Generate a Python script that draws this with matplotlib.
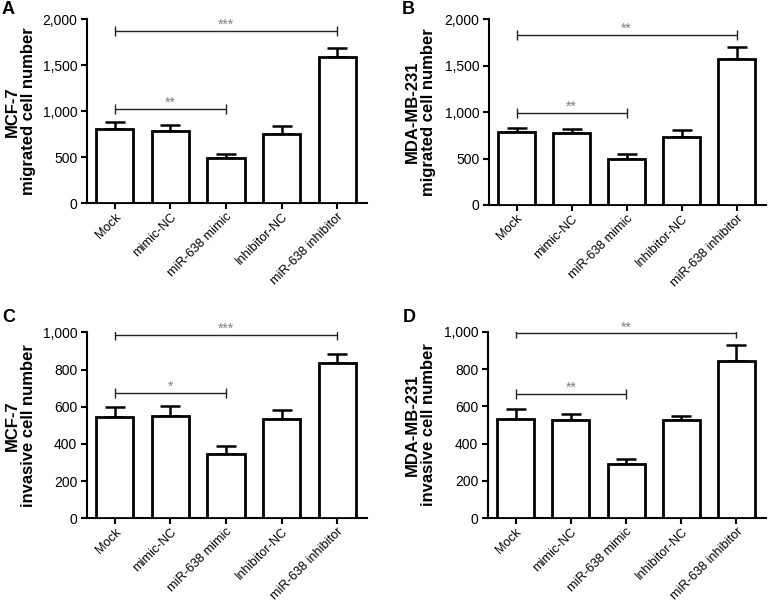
import matplotlib
matplotlib.use("Agg")
import matplotlib.pyplot as plt
from matplotlib.ticker import FuncFormatter

plt.rcParams['font.family'] = ['Liberation Sans', 'DejaVu Sans']

categories = ["Mock", "mimic-NC", "miR-638 mimic", "Inhibitor-NC", "miR-638 inhibitor"]

a_means = [808, 783, 496, 757, 1587]
a_err = [72, 65, 37, 80, 105]
b_means = [783, 776, 496, 736, 1576]
b_err = [43, 39, 50, 68, 122]
c_means = [547, 552, 348, 534, 833]
c_err = [50, 54, 41, 48, 52]
d_means = [534, 527, 291, 527, 845]
d_err = [54, 32, 25, 23, 82]

# brackets: (x1, x2, y, label)
a_brackets = [(0, 4, 1870, "***"), (0, 2, 1025, "**")]
b_brackets = [(0, 4, 1831, "**"), (0, 2, 991, "**")]
c_brackets = [(0, 4, 986, "***"), (0, 2, 676, "*")]
d_brackets = [(0, 4, 991, "**"), (0, 2, 666, "**")]

W, H = 768, 604
fig = plt.figure(figsize=(W / 100, H / 100), dpi=100)


def px_axes(left, right, top, bottom):
    return fig.add_axes([left / W, 1 - bottom / H, (right - left) / W, (bottom - top) / H])


panels = [
    dict(rect=(87, 366.7, 19.3, 203.3), means=a_means, err=a_err, br=a_brackets,
         ymax=2000, step=500, letter="A", lpos=(2, 1),
         ylab="MCF-7\nmigrated cell number", labx=20),
    dict(rect=(489, 765.7, 19.3, 205), means=b_means, err=b_err, br=b_brackets,
         ymax=2000, step=500, letter="B", lpos=(402, 1),
         ylab="MDA-MB-231\nmigrated cell number", labx=420),
    dict(rect=(87, 366.7, 332.3, 518.3), means=c_means, err=c_err, br=c_brackets,
         ymax=1000, step=200, letter="C", lpos=(2, 309),
         ylab="MCF-7\ninvasive cell number", labx=20),
    dict(rect=(488, 765.7, 331.7, 518.3), means=d_means, err=d_err, br=d_brackets,
         ymax=1000, step=200, letter="D", lpos=(403, 309),
         ylab="MDA-MB-231\ninvasive cell number", labx=420),
]

for p in panels:
    l, r, t, b = p["rect"]
    ax = px_axes(l, r, t, b)
    x = list(range(len(categories)))
    ax.errorbar(x, p["means"], yerr=[[0] * len(x), p["err"]], fmt="none",
                ecolor="black", elinewidth=1.8, capsize=7.5, capthick=1.8, zorder=2)
    ax.bar(x, p["means"], width=0.67, color="white", edgecolor="black",
           linewidth=2.0, zorder=3)
    for (x1, x2, y, lab) in p["br"]:
        ax.errorbar([(x1 + x2) / 2], [y], xerr=[(x2 - x1) / 2], fmt="none",
                    ecolor="#222222", elinewidth=1.0, capsize=3.6, capthick=1.0, zorder=4)
        ax.annotate(lab, xy=((x1 + x2) / 2, y), xytext=(0, 1.5),
                    textcoords="offset points", ha="center", va="baseline",
                    fontsize=10, color="#808080")
    ax.set_xlim(-0.5, 4.53)
    ax.set_ylim(0, p["ymax"])
    ax.set_yticks(list(range(0, p["ymax"] + 1, p["step"])))
    ax.yaxis.set_major_formatter(FuncFormatter(lambda v, pos: f"{v:,.0f}"))
    ax.set_xticks(x)
    ax.set_xticklabels(categories, rotation=45, ha="right", rotation_mode="anchor",
                       fontsize=9.2)
    ax.tick_params(axis="y", direction="out", length=4, width=1.5, labelsize=10,
                   pad=3, colors="black")
    ax.tick_params(axis="x", direction="out", length=4, width=1.5, pad=1.5,
                   colors="black")
    for s in ["top", "right"]:
        ax.spines[s].set_visible(False)
    for s in ["left", "bottom"]:
        ax.spines[s].set_linewidth(1.5)
    cy = (t + b) / 2
    fig.text(p["labx"] / W, 1 - cy / H, p["ylab"], rotation=90, ha="center",
             va="center", fontsize=12, fontweight="bold", linespacing=1.1,
             multialignment="center")
    fig.text(p["lpos"][0] / W, 1 - p["lpos"][1] / H, p["letter"], ha="left",
             va="top", fontsize=13, fontweight="bold")

fig.savefig("out.png", dpi=100)
